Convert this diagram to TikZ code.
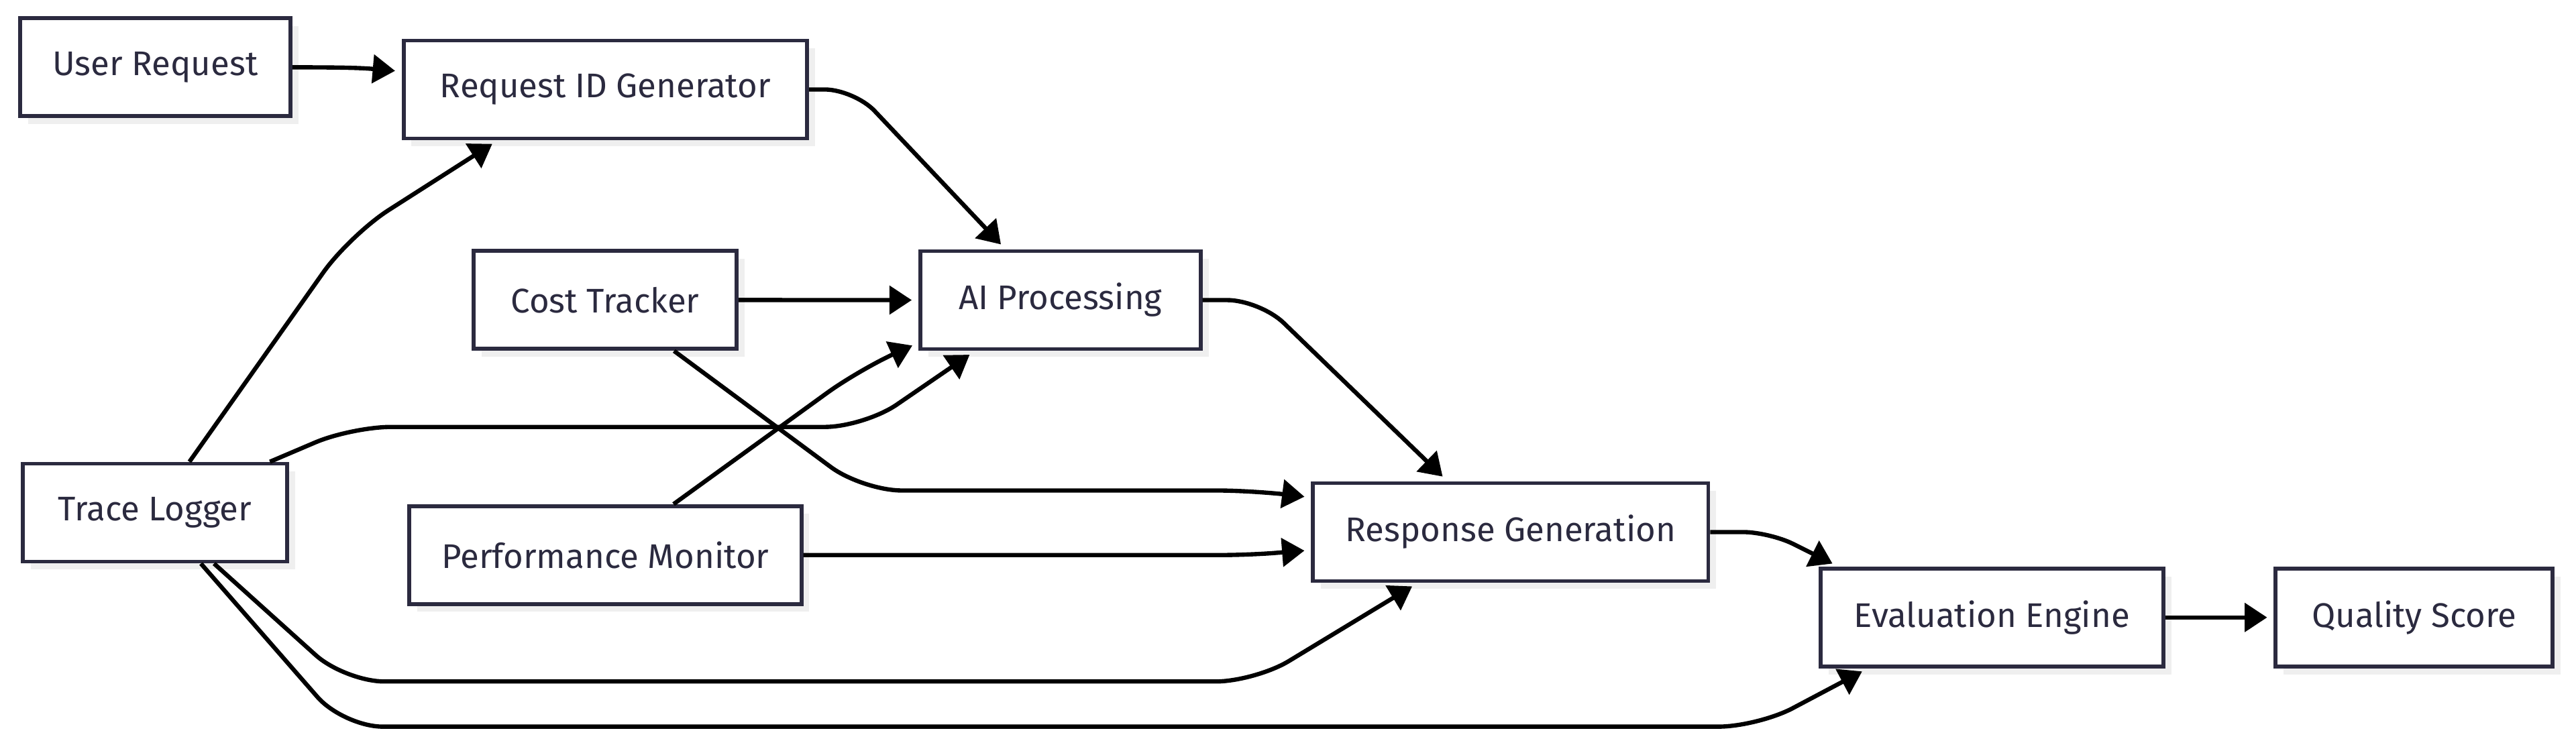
\documentclass[tikz,border=0pt]{standalone}
\usepackage{fontspec}
\setsansfont{Fira Sans}
\usepackage{xcolor}
\usepackage{tikz}
\usetikzlibrary{arrows.meta,calc,shadows}
\definecolor{stageline}{HTML}{2B2A3F}
\definecolor{stageshade}{HTML}{EFEFEF}

\begin{document}
\begin{tikzpicture}[x=0.025cm, y=0.025cm,
        stage/.style={draw=stageline, line width=0.06cm, fill=white, text=stageline,
            minimum height=1.49cm, inner sep=0pt, font=\sffamily\fontsize{14.8}{18}\selectfont,
            drop shadow={shadow xshift=0.12cm, shadow yshift=-0.12cm, fill=stageshade, opacity=1}},
        flow/.style={line width=0.065cm, -{Triangle[length=0.34cm, width=0.43cm]}, shorten >=0.1cm}]
                \useasboundingbox (0, 0) rectangle (1568, 454.5);

                \node[stage, minimum width=4.115cm] (user) at (94.5, 413.5) {User Request};
                \node[stage, minimum width=6.14cm] (reqid) at (368.5, 400) {Request ID Generator};
                \node[stage, minimum width=4.005cm] (cost) at (368.3, 271.8) {Cost Tracker};
                \node[stage, minimum width=4.265cm] (ai) at (645.5, 271.75) {AI Processing};
                \node[stage, minimum width=4.025cm] (trace) at (94.3, 142.3) {Trace Logger};
                \node[stage, minimum width=5.965cm] (perf) at (368.5, 116.5) {Performance Monitor};
                \node[stage, minimum width=6.015cm] (resp) at (919.5, 130.5) {Response Generation};
                \node[stage, minimum width=5.215cm] (eval) at (1212.5, 78.5) {Evaluation Engine};
                \node[stage, minimum width=4.215cm] (quality) at (1469.5, 78.5) {Quality Score};

                \draw[flow] (user.east) to[out=0, in=175] ($(reqid.west)+(0,11)$);
                \draw[flow, rounded corners=0.7cm] ($(trace.north)+(21,0)$)
                    -- (213, 311.5)
                    -- ($(reqid.south)+(-65.5,0)$);
                \draw[flow, rounded corners=0.45cm] (reqid.east)
                    -- (520, 400)
                    -- ($(ai.north)+(-33.5,0)$);
                \draw[flow] (cost.east) -- (ai.west);
                \draw[flow, rounded corners=0.6cm] ($(cost.south)+(42,0)$)
                    -- (525, 155.8)
                    -- (765, 155.8)
                    -- ($(resp.west)+(0,21)$);
                \draw[flow, rounded corners=0.6cm] ($(perf.north)+(41.5,0)$)
                    -- (523, 229.4)
                    -- ($(ai.west)+(0,-26)$);
                \draw[flow, rounded corners=0.6cm] ($(trace.north)+(70,0)$)
                    -- (214, 194.5)
                    -- (526, 194.5)
                    -- ($(ai.south)+(-52,0)$);
                \draw[flow, rounded corners=0.5cm] (ai.east)
                    -- (767, 271.75)
                    -- ($(resp.north)+(-38.5,0)$);
                \draw[flow, rounded corners=0.4cm] (perf.east)
                    -- (760, 116.5)
                    -- ($(resp.west)+(0,-11)$);
                \draw[flow, rounded corners=0.6cm] ($(trace.south)+(36,0)$)
                    -- (210, 39.5)
                    -- (764, 39.5)
                    -- ($(resp.south)+(-56.5,0)$);
                \draw[flow, rounded corners=0.6cm] ($(trace.south)+(28,0)$)
                    -- (209, 12)
                    -- (1070, 12)
                    -- ($(eval.south)+(-75.5,0)$);
                \draw[flow, rounded corners=0.4cm] (resp.east)
                    -- (1077, 130.5)
                    -- ($(eval.north)+(-93.5,0)$);
                \draw[flow] (eval.east) -- (quality.west);
            \end{tikzpicture}
\end{document}
